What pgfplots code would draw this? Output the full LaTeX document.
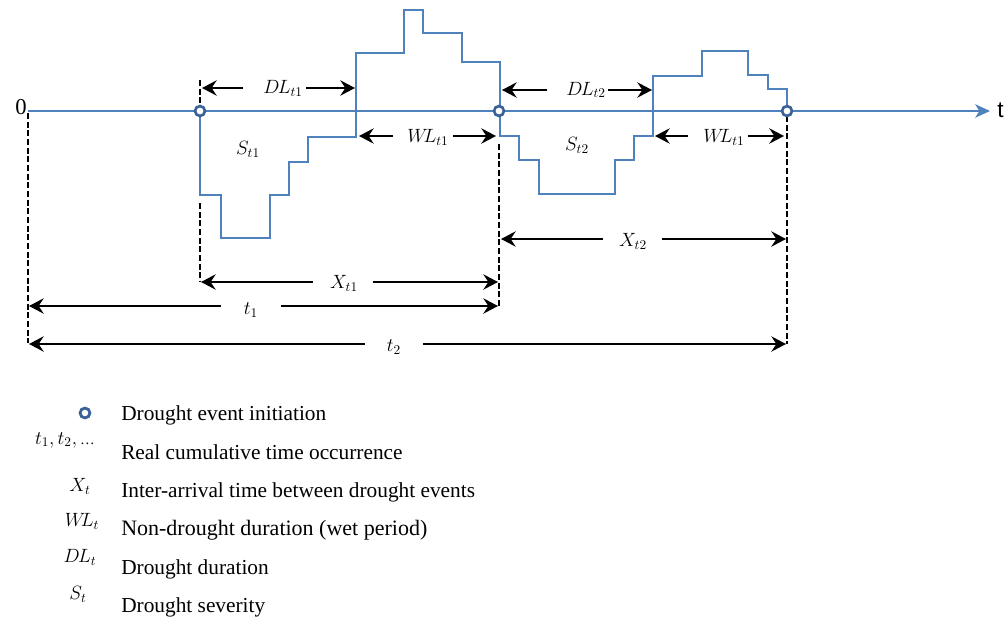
\documentclass[border=0pt]{standalone}
\usepackage{pgfplots}
\pgfplotsset{compat=1.18}
\usepackage{fontspec}
\setmainfont{Liberation Serif}
\newfontfamily\arialfont{Liberation Sans}
\usetikzlibrary{arrows.meta}
\definecolor{stepblue}{HTML}{4F81BD}
\definecolor{dotblue}{HTML}{3A6296}
\newcommand{\WL}{W\mkern-4muL}
\newcommand{\DL}{D\mkern-1.5muL}

\begin{document}
\begin{tikzpicture}[
  dimarrow/.style={black, line width=1.5pt, -{Stealth[length=11pt,width=11.5pt,inset=3.8pt]}},
  guide/.style={black, line width=1.2pt, dash pattern=on 4.5pt off 2pt},
  sym/.style={font=\fontsize{14.5}{17}\selectfont, inner sep=0pt},
  lab/.style={font=\fontsize{16}{18}\selectfont, anchor=base west, inner sep=0pt},
]
\begin{axis}[
  width=753.75pt, height=462.75pt, scale only axis,
  xmin=0, xmax=1005, ymin=0, ymax=617, y dir=reverse,
  hide axis, clip=false,
]
% keep the full canvas
\path (axis cs:0,0) rectangle (axis cs:1005,617);

% time axis
\addplot[stepblue, line width=1.6pt, -{Stealth[length=11pt,width=10pt,inset=3pt]}]
  coordinates {(28,111) (990,111)};

% dashed guides
\addplot[guide] coordinates {(28,113) (28,343)};
\addplot[guide] coordinates {(200,80) (200,106)};
\addplot[guide] coordinates {(200,203) (200,282)};
\addplot[guide] coordinates {(499,144) (499,306)};
\addplot[guide] coordinates {(787,116) (787,344)};

% standardized index, step series
\addplot[stepblue, line width=1.6pt] coordinates {
  (200,111) (200,195) (221,195) (221,238) (270,238) (270,195)
  (289,195) (289,162) (308,162) (308,137) (356,137) (356,53)
  (404,53) (404,10) (423,10) (423,33) (462,33) (462,62)
  (500,62) (500,136) (519,136) (519,160) (539,160) (539,194)
  (615,194) (615,160) (634,160) (634,136) (653,136) (653,76)
  (702,76) (702,51) (748,51) (748,75) (768,75) (768,89)
  (787,89) (787,111)
};

% drought event initiations
\addplot[only marks, mark=*, mark size=3.7pt, mark options={draw=dotblue, fill=white, line width=2pt}]
  coordinates {(200,111) (499,111) (787,111)};

% duration arrows
\addplot[dimarrow] coordinates {(243,88) (202,88)};
\addplot[dimarrow] coordinates {(306,88) (355,88)};
\addplot[dimarrow] coordinates {(393,136) (359,136)};
\addplot[dimarrow] coordinates {(453,136) (496,136)};
\addplot[dimarrow] coordinates {(547,90) (502,90)};
\addplot[dimarrow] coordinates {(608,90) (652,90)};
\addplot[dimarrow] coordinates {(688,136) (655,136)};
\addplot[dimarrow] coordinates {(748,136) (784,136)};

% inter-arrival and cumulative arrows
\addplot[dimarrow] coordinates {(313,282) (201,282)};
\addplot[dimarrow] coordinates {(373,282) (498,282)};
\addplot[dimarrow] coordinates {(603,239) (501,239)};
\addplot[dimarrow] coordinates {(662,239) (786,239)};
\addplot[dimarrow] coordinates {(221,306) (29,306)};
\addplot[dimarrow] coordinates {(281,306) (498,306)};
\addplot[dimarrow] coordinates {(365,344) (29,344)};
\addplot[dimarrow] coordinates {(423,344) (786,344)};

% labels in the diagram
\node[font=\fontsize{17}{20}\selectfont, anchor=base east, inner sep=0pt] at (axis cs:27,114) {0};
\node[font=\arialfont\fontsize{17}{20}\selectfont, anchor=base west, inner sep=0pt] at (axis cs:997,117) {t};
\node[sym] at (axis cs:283,88) {$\DL_{t1}$};
\node[sym] at (axis cs:586,90) {$\DL_{t2}$};
\node[sym] at (axis cs:428,137) {$\WL_{t1}$};
\node[sym] at (axis cs:724,137) {$\WL_{t1}$};
\node[sym] at (axis cs:248,149) {$S_{t1}$};
\node[sym] at (axis cs:577,145) {$S_{t2}$};
\node[sym] at (axis cs:344,283) {$X_{t1}$};
\node[sym] at (axis cs:633,241) {$X_{t2}$};
\node[sym] at (axis cs:251,310) {$t_1$};
\node[sym] at (axis cs:394,347) {$t_2$};

% key
\addplot[only marks, mark=*, mark size=3.7pt, mark options={draw=dotblue, fill=white, line width=2.1pt}]
  coordinates {(85,413)};
\node[sym] at (axis cs:65,440) {$t_1, t_2,$\,{\fontsize{11}{12}\selectfont\ldots}};
\node[sym] at (axis cs:80,486) {$X_t$};
\node[sym] at (axis cs:82,521) {$\WL_t$};
\node[sym] at (axis cs:80,557) {$\DL_t$};
\node[sym] at (axis cs:78,594) {$S_t$};
\node[lab] at (axis cs:121,420) {Drought event initiation};
\node[lab] at (axis cs:121,459) {Real cumulative time occurrence};
\node[lab] at (axis cs:121,497) {Inter-arrival time between drought events};
\node[lab, font=\fontsize{16.5}{18}\selectfont] at (axis cs:121,535) {Non-drought duration (wet period)};
\node[lab] at (axis cs:121,574) {Drought duration};
\node[lab] at (axis cs:121,612) {Drought severity};
\end{axis}
\end{tikzpicture}
\end{document}
